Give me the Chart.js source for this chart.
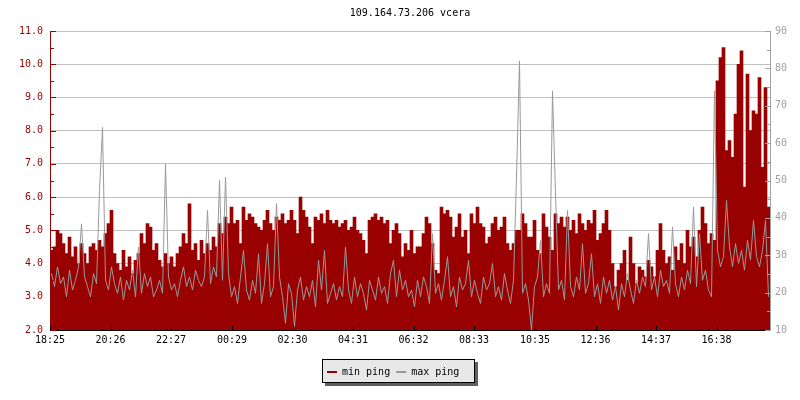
<!DOCTYPE html>
<html lang="en">
<head>
    <meta charset="UTF-8">
    <title>109.164.73.206 vcera</title>
    <script src="https://cdn.jsdelivr.net/npm/chart.js"></script>
    <style>
        body { margin: 0; background: #fff; }
    </style>
</head>
<body>
<canvas id="pingChart" width="800" height="400"></canvas>

<script>

var chartTitle = '109.164.73.206 vcera';
var startTime = '18:25';
var stepMinutes = 6;
var tickLabels = ['18:25', '20:26', '22:27', '00:29', '02:30', '04:31', '06:32', '08:33', '10:35', '12:36', '14:37', '16:38'];

// min ping, left axis (ms)
var minPing = [
    4.4, 4.5, 5.0, 4.9, 4.6, 4.3, 4.8, 4.2, 4.5, 4.0,
    4.6, 4.3, 4.0, 4.5, 4.6, 4.4, 4.7, 4.5, 4.9, 5.2,
    5.6, 4.3, 4.0, 3.8, 4.4, 3.9, 4.2, 3.7, 4.1, 4.3,
    4.9, 4.6, 5.2, 5.1, 4.4, 4.6, 4.1, 3.9, 4.3, 4.0,
    4.2, 3.9, 4.3, 4.5, 4.9, 4.6, 5.8, 4.4, 4.6, 4.1,
    4.7, 4.3, 4.6, 4.4, 4.8, 4.5, 5.2, 4.9, 5.4, 5.2,

    5.7, 5.2, 5.3, 4.6, 5.7, 5.3, 5.5, 5.4, 5.2, 5.1,
    5.0, 5.3, 5.6, 5.2, 5.0, 5.4, 5.3, 5.5, 5.2, 5.3,
    5.6, 5.3, 4.9, 6.0, 5.6, 5.4, 5.1, 4.6, 5.4, 5.3,
    5.5, 5.2, 5.6, 5.3, 5.2, 5.3, 5.1, 5.2, 5.3, 5.0,
    5.1, 5.4, 5.0, 4.9, 4.7, 4.3, 5.3, 5.4, 5.5, 5.3,
    5.4, 5.2, 5.3, 4.6, 5.0, 5.2, 4.9, 4.2, 4.6, 4.4,

    5.0, 4.3, 4.5, 4.5, 4.9, 5.4, 5.2, 4.6, 3.8, 3.7,
    5.7, 5.5, 5.6, 5.4, 4.8, 5.1, 5.5, 4.8, 5.0, 4.3,
    5.5, 5.2, 5.7, 5.2, 5.1, 4.6, 4.8, 5.2, 5.4, 5.0,
    5.1, 5.4, 4.6, 4.4, 4.6, 5.0, 5.0, 5.5, 5.2, 4.8,
    4.8, 5.3, 4.4, 4.3, 5.5, 5.1, 4.8, 4.4, 5.5, 5.2,
    5.4, 5.1, 5.4, 5.0, 5.3, 4.9, 5.5, 5.2, 5.0, 5.3,

    5.2, 5.6, 4.7, 4.9, 5.2, 5.6, 5.0, 4.0, 3.3, 3.8,
    4.0, 4.4, 3.5, 4.8, 4.0, 3.4, 3.9, 3.8, 3.6, 4.1,
    3.9, 3.6, 4.4, 5.2, 4.4, 4.0, 4.2, 3.8, 4.5, 4.1,
    4.6, 4.0, 5.0, 4.5, 4.8, 4.2, 5.0, 5.7, 5.2, 4.6,
    4.9, 4.7, 9.5, 10.2, 10.5, 7.4, 7.7, 7.2, 8.5, 10.0,
    10.4, 6.3, 9.7, 8.0, 8.6, 8.5, 9.6, 6.9, 9.3, 5.7
];

// max ping, right axis (ms)
var maxPing = [
    25.1, 21.6, 26.9, 22.4, 24.2, 18.9, 26.0, 20.7, 23.3, 26.9,
    38.4, 24.2, 21.6, 18.9, 25.1, 22.4, 47.3, 64.2, 23.3, 20.7,
    26.9, 22.4, 19.8, 24.2, 18.0, 23.3, 20.7, 26.0, 18.9, 32.2,
    19.8, 25.1, 21.6, 24.2, 18.9, 20.7, 23.3, 19.8, 54.4, 24.2,
    20.7, 22.4, 18.9, 23.3, 26.9, 21.6, 24.2, 20.7, 26.0, 23.3,
    21.6, 24.2, 42.0, 22.4, 26.9, 24.2, 50.0, 23.3, 50.9, 25.1,

    18.9, 21.6, 17.1, 24.2, 31.3, 20.7, 18.0, 23.3, 19.8, 30.4,
    17.1, 22.4, 33.1, 18.9, 21.6, 43.8, 24.2, 18.9, 11.8, 22.4,
    19.8, 10.9, 20.7, 24.2, 18.0, 21.6, 18.9, 23.3, 16.2, 28.7,
    20.7, 31.3, 17.1, 19.8, 22.4, 18.0, 21.6, 18.9, 32.2, 20.7,
    17.1, 24.2, 18.9, 22.4, 19.8, 15.3, 23.3, 20.7, 18.0, 24.2,
    19.8, 21.6, 17.1, 25.1, 28.7, 18.9, 26.0, 20.7, 23.3, 18.9,

    20.7, 16.2, 23.3, 18.9, 24.2, 21.6, 17.1, 35.8, 19.8, 22.4,
    18.0, 23.3, 29.6, 18.9, 21.6, 16.2, 24.2, 20.7, 22.4, 28.7,
    18.9, 23.3, 19.8, 17.1, 24.2, 20.7, 22.4, 27.8, 18.9, 21.6,
    18.0, 25.1, 20.7, 17.1, 23.3, 50.9, 82.0, 19.8, 22.4, 18.0,
    10.0, 21.6, 24.2, 34.0, 18.9, 22.4, 19.8, 74.0, 46.4, 20.7,
    23.3, 18.0, 42.0, 21.6, 18.9, 24.2, 20.7, 33.1, 19.8, 22.4,

    30.4, 18.9, 22.4, 17.1, 24.2, 19.8, 23.3, 18.0, 21.6, 15.3,
    22.4, 18.9, 25.1, 20.7, 17.1, 23.3, 19.8, 24.2, 21.6, 35.8,
    20.7, 24.2, 18.9, 26.0, 21.6, 23.3, 19.8, 37.6, 22.4, 18.9,
    24.2, 20.7, 26.0, 22.4, 42.9, 21.6, 35.8, 23.3, 26.0, 20.7,
    18.9, 74.0, 31.3, 26.9, 29.6, 44.7, 32.2, 26.9, 33.1, 27.8,
    31.3, 26.0, 34.0, 28.7, 39.3, 29.6, 26.9, 31.3, 39.3, 18.9
];

function clockMinutes(label) {
    var parts = label.split(':');
    return parseInt(parts[0]) * 60 + parseInt(parts[1]);
}

// minutes since the start of the graph, wrapping past midnight
var tickMinutes = tickLabels.map(function (label) {
    var d = clockMinutes(label) - clockMinutes(startTime);
    return d < 0 ? d + 1440 : d;
});

var minPoints = minPing.map(function (v, i) { return { x: i * stepMinutes + stepMinutes / 2, y: v }; });
var maxPoints = maxPing.map(function (v, i) { return { x: i * stepMinutes + stepMinutes / 2, y: v }; });

var monoFont = { family: 'DejaVu Sans Mono', size: 10 };

function hline(ctx, x1, x2, y) {
    ctx.beginPath();
    ctx.moveTo(x1, y);
    ctx.lineTo(x2, y);
    ctx.stroke();
}

var rrdDecor = {
    id: 'rrdDecor',
    afterDatasetsDraw: function (chart) {
        var ctx = chart.ctx, a = chart.chartArea, s = chart.scales;
        ctx.save();
        ctx.lineWidth = 1;

        // axis lines
        ctx.strokeStyle = '#990000';
        ctx.beginPath(); ctx.moveTo(a.left + 0.5, a.top); ctx.lineTo(a.left + 0.5, a.bottom); ctx.stroke();
        ctx.strokeStyle = '#a0a0a0';
        ctx.beginPath(); ctx.moveTo(a.right + 0.5, a.top); ctx.lineTo(a.right + 0.5, a.bottom + 1); ctx.stroke();
        ctx.strokeStyle = '#000000';
        hline(ctx, a.left, a.right, a.bottom + 0.5);

        // left ticks (inside)
        ctx.strokeStyle = '#990000';
        for (var v = 2; v <= 11; v += 0.5) {
            var y = Math.round(s.y.getPixelForValue(v)) + 0.5;
            hline(ctx, a.left, a.left + (v % 1 === 0 ? 6 : 4), y);
        }
        // right ticks (inside)
        ctx.strokeStyle = '#a0a0a0';
        for (var r = 10; r <= 90; r += 5) {
            var yr = Math.round(s.y1.getPixelForValue(r)) + 0.5;
            hline(ctx, a.right - (r % 10 === 0 ? 5 : 3), a.right + 1, yr);
        }
        // bottom ticks
        ctx.strokeStyle = '#000000';
        tickMinutes.forEach(function (m) {
            var x = Math.round(s.x.getPixelForValue(m)) + 0.5;
            ctx.beginPath(); ctx.moveTo(x, a.bottom + 1); ctx.lineTo(x, a.bottom - 4); ctx.stroke();
        });
        ctx.restore();
    },
    afterDraw: function (chart) {
        var ctx = chart.ctx, a = chart.chartArea;
        ctx.save();
        ctx.font = '10px "DejaVu Sans Mono"';
        ctx.fillStyle = '#000';
        ctx.textAlign = 'center';
        ctx.textBaseline = 'middle';
        ctx.fillText(chartTitle, (a.left + a.right) / 2, 13);

        // legend box with shadow
        var bx = 322, by = 359, bw = 153, bh = 24;
        ctx.fillStyle = '#606060';
        ctx.fillRect(bx + 3, by + 3, bw, bh);
        ctx.fillStyle = '#e8e8e8';
        ctx.fillRect(bx, by, bw, bh);
        ctx.strokeStyle = '#000';
        ctx.lineWidth = 1;
        ctx.strokeRect(bx + 0.5, by + 0.5, bw - 1, bh - 1);

        var lx = 327;
        ctx.textAlign = 'left';
        chart.data.datasets.forEach(function (ds) {
            ctx.fillStyle = ds.legendColor;
            ctx.fillRect(lx, 371, 10, 2);
            ctx.fillStyle = '#000';
            ctx.fillText(ds.label, lx + 15, 372);
            lx += 15 + ctx.measureText(ds.label).width + 6;
        });
        ctx.restore();
    }
};

var ctx = document.getElementById('pingChart').getContext('2d');
var pingChart = new Chart(ctx, {
    type: 'bar',
    data: {
        datasets: [{
            type: 'bar',
            label: 'min ping',
            data: minPoints,
            yAxisID: 'y',
            backgroundColor: '#990000',
            legendColor: '#990000',
            borderWidth: 0,
            barPercentage: 1,
            categoryPercentage: 1,
            order: 2
        }, {
            type: 'line',
            label: 'max ping',
            data: maxPoints,
            yAxisID: 'y1',
            borderColor: '#999999',
            legendColor: '#999999',
            borderWidth: 1,
            pointRadius: 0,
            tension: 0,
            fill: false,
            order: 1
        }]
    },
    options: {
        responsive: false,
        devicePixelRatio: 1,
        animation: false,
        events: [],
        layout: { padding: { top: 31, left: 0, right: 0, bottom: 0 } },
        plugins: {
            legend: { display: false },
            title: { display: false },
            tooltip: { enabled: false }
        },
        scales: {
            x: {
                type: 'linear',
                min: 0,
                max: 1440,
                offset: false,
                afterFit: function (scale) { scale.height = 70; },
                afterBuildTicks: function (scale) {
                    scale.ticks = tickMinutes.map(function (m) { return { value: m }; });
                },
                ticks: {
                    autoSkip: false,
                    maxRotation: 0,
                    padding: 4,
                    color: '#000',
                    font: monoFont,
                    callback: function (value) {
                        var k = tickMinutes.indexOf(value);
                        return k >= 0 ? tickLabels[k] : '';
                    }
                },
                grid: { display: false, drawTicks: false, offset: false },
                border: { display: false }
            },
            y: {
                position: 'left',
                min: 2,
                max: 11,
                afterFit: function (scale) { scale.width = 50; },
                ticks: {
                    stepSize: 1,
                    padding: 7,
                    color: '#990000',
                    font: monoFont,
                    callback: function (v) { return v.toFixed(1); }
                },
                grid: { color: '#c0c0c0', drawTicks: false },
                border: { display: false }
            },
            y1: {
                position: 'right',
                min: 10,
                max: 90,
                afterFit: function (scale) { scale.width = 30; },
                ticks: {
                    stepSize: 10,
                    padding: 5,
                    color: '#a0a0a0',
                    font: monoFont
                },
                grid: { display: false, drawTicks: false },
                border: { display: false }
            }
        }
    },
    plugins: [rrdDecor]
});

</script>
</body>
</html>
